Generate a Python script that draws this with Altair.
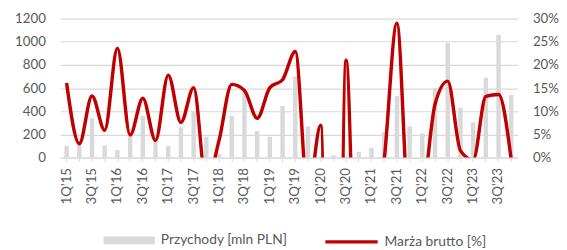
import altair as alt
import pandas as pd

quarters = ["1Q'15", "2Q'15", "3Q'15", "4Q'15", "1Q'16", "2Q'16", "3Q'16", "4Q'16",
            "1Q'17", "2Q'17", "3Q'17", "4Q'17", "1Q'18", "2Q'18", "3Q'18", "4Q'18",
            "1Q'19", "2Q'19", "3Q'19", "4Q'19", "1Q'20", "2Q'20", "3Q'20", "4Q'20",
            "1Q'21", "2Q'21", "3Q'21", "4Q'21", "1Q'22", "2Q'22", "3Q'22", "4Q'22",
            "1Q'23", "2Q'23", "3Q'23", "4Q'23"]

revenue = [100, 120, 340, 105, 65, 190, 360, 150,
           100, 260, 400, 180, 30, 360, 570, 230,
           180, 445, 700, 270, 10, 20, 10, 50,
           85, 220, 530, 270, 210, 600, 990, 430,
           305, 690, 1060, 540]

margin = [16.1, 3.0, 13.3, 5.9, 23.6, 4.9, 12.8, 3.7,
          17.8, 7.6, 15.1, -5.5, 3.7, 15.8, 14.5, 8.5,
          15.1, 16.8, 22.9, -8.0, 7.0, -150.0, 21.0, -50.0,
          -20.0, -0.5, 29.0, -13.0, -8.5, 11.5, 16.5, 1.5,
          -0.5, 13.2, 13.6, -0.5]

rev_label = "Przychody [mln PLN]"
mar_label = "Marża brutto [%]"

FONT = "Lato"
GRAY_TXT = "#595959"
GRID = "#d9d9d9"

df = pd.DataFrame({"q": quarters, "rev": revenue, "m": margin,
                   "s1": rev_label, "s2": mar_label})

x = alt.X("q:N", sort=None,
          scale=alt.Scale(paddingInner=0, paddingOuter=0),
          axis=alt.Axis(title=None, labelAngle=-90,
                        labelExpr="(slice(datum.value,0,2)=='1Q' || slice(datum.value,0,2)=='3Q') ? datum.value : ''",
                        labelColor=GRAY_TXT, labelFont=FONT, labelFontSize=13.5,
                        domainColor=GRID, domainWidth=1, tickColor=GRID, tickSize=4,
                        labelPadding=6, grid=False))

bars = alt.Chart(df).mark_bar(size=4.5).encode(
    x=x,
    y=alt.Y("rev:Q", scale=alt.Scale(domain=[0, 1200]),
            axis=alt.Axis(title=None, values=[0, 200, 400, 600, 800, 1000, 1200], format="d",
                          domain=False, ticks=False, labelPadding=15,
                          gridColor=GRID, gridWidth=1.2,
                          labelColor=GRAY_TXT, labelFont=FONT, labelFontSize=13.5)),
    color=alt.Color("s1:N", scale=alt.Scale(domain=[rev_label], range=["#d9d9d9"]),
                    legend=alt.Legend(title=" ", titleOrient="left", titleFontSize=1, titlePadding=43,
                                      orient="bottom", direction="horizontal",
                                      symbolType="M-1,-0.15H1V0.15H-1Z", symbolSize=2704,
                                      labelFont=FONT, labelFontSize=14, labelColor=GRAY_TXT,
                                      labelOffset=5, offset=9)),
)

line = alt.Chart(df).mark_line(interpolate="monotone", strokeWidth=3.5, clip=True).encode(
    x=x,
    y=alt.Y("m:Q", scale=alt.Scale(domain=[0, 30]),
            axis=alt.Axis(title=None, orient="right", values=[0, 5, 10, 15, 20, 25, 30],
                          labelExpr="datum.value + '%'", grid=False, domain=False, ticks=False,
                          labelPadding=15, labelColor=GRAY_TXT, labelFont=FONT, labelFontSize=13.5)),
    color=alt.Color("s2:N", scale=alt.Scale(domain=[mar_label], range=["#c00000"]),
                    legend=alt.Legend(title=" ", titleOrient="left", titleFontSize=1, titlePadding=28,
                                      orient="bottom", direction="horizontal",
                                      symbolType="stroke", symbolSize=2809,
                                      symbolStrokeWidth=3.5,
                                      labelFont=FONT, labelFontSize=14, labelColor=GRAY_TXT,
                                      labelOffset=5, offset=9)),
)

chart = alt.layer(bars, line).resolve_scale(y="independent", color="independent").properties(
    width=464, height=141,
    autosize=alt.AutoSizeParams(type="none"),
    padding={"left": 53, "top": 9, "right": 42, "bottom": 92},
).configure_view(stroke=None)

chart.save("out.html", embed_options={"renderer": "svg", "actions": False})
